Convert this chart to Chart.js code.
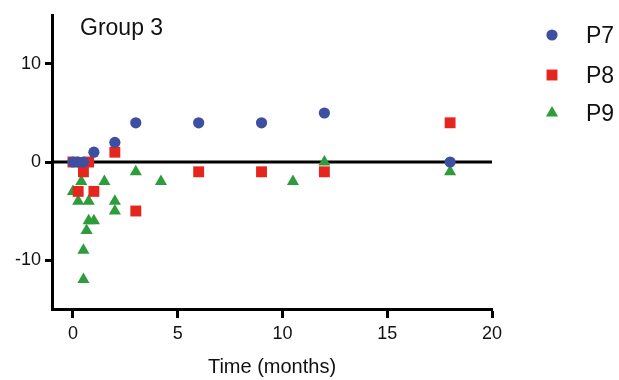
<!DOCTYPE html>
<html>
<head>
<meta charset="utf-8">
<title>Group 3</title>
<script src="https://cdn.jsdelivr.net/npm/chart.js@4/dist/chart.umd.min.js"></script>
<style>
    html, body { margin: 0; padding: 0; background: #fff; }
    #wrap { width: 619px; height: 380px; }
</style>
</head>
<body>
<div id="wrap"><canvas id="scatterChart" width="619" height="380"></canvas></div>
<script>
// Данные: время (месяцы) и значения по пациентам
const p7Time = [0, 0.25, 0.5, 1, 2, 3, 6, 9, 12, 18];
const p7Values = [0, 0, 0, 1, 2, 4, 4, 4, 5, 0];

const p8Time = [0, 0.25, 0.5, 0.75, 1, 2, 3, 6, 9, 12, 18];
const p8Values = [0, -3, -1, 0, -3, 1, -5, -1, -1, -1, 4];

const p9Time = [0, 0.25, 0.4, 0.5, 0.5, 0.65, 0.75, 0.75, 1, 1.5, 2, 2, 3, 4.2, 10.5, 12, 18];
const p9Values = [-3, -4, -2, -9, -12, -7, -4, -6, -6, -2, -4, -5, -1, -2, -2, 0, -1];

const xTicks = [0, 5, 10, 15, 20];
const yTicks = [-10, 0, 10];
const baselineX = [-1, 20];

const FONT = "'Liberation Sans', Arial, Helvetica, sans-serif";

function toPoints(xs, ys) {
    return xs.map(function(x, i) { return { x: x, y: ys[i] }; });
}

// Заголовок внутри области графика и легенда справа
const overlayPlugin = {
    id: 'overlay',
    afterDraw: function(chart) {
        const ctx = chart.ctx;
        ctx.save();
        ctx.fillStyle = '#111';
        ctx.font = '23px ' + FONT;
        ctx.textAlign = 'left';
        ctx.textBaseline = 'alphabetic';
        ctx.fillText('Group 3', 80, 35);

        const rows = [35, 75, 113];
        let row = 0;
        chart.data.datasets.forEach(function(ds) {
            if (ds.type === 'line') return;
            const y = rows[row++];
            ctx.fillStyle = ds.backgroundColor;
            ctx.strokeStyle = ds.backgroundColor;
            ctx.lineWidth = 0;
            Chart.helpers.drawPoint(ctx, {
                pointStyle: ds.pointStyle,
                radius: ds.pointRadius,
                rotation: 0,
                borderWidth: 0
            }, 552, y);
            ctx.fillStyle = '#111';
            ctx.fillText(ds.label, 586, y + 8);
        });
        ctx.restore();
    }
};

document.addEventListener('DOMContentLoaded', function() {
    const ctx = document.getElementById('scatterChart');

    new Chart(ctx, {
        type: 'scatter',
        data: {
            datasets: [
                {
                    label: 'P7',
                    data: toPoints(p7Time, p7Values),
                    pointStyle: 'circle',
                    pointRadius: 5.6,
                    backgroundColor: '#3d4fa1',
                    borderColor: '#3d4fa1',
                    borderWidth: 0,
                    order: 1
                },
                {
                    label: 'P8',
                    data: toPoints(p8Time, p8Values),
                    pointStyle: 'rect',
                    pointRadius: 7.7,
                    backgroundColor: '#e4261e',
                    borderColor: '#e4261e',
                    borderWidth: 0,
                    order: 2
                },
                {
                    label: 'P9',
                    data: toPoints(p9Time, p9Values),
                    pointStyle: 'triangle',
                    pointRadius: 7,
                    backgroundColor: '#2e9c3c',
                    borderColor: '#2e9c3c',
                    borderWidth: 0,
                    order: 3
                },
                {
                    // нулевая линия
                    type: 'line',
                    label: 'zero',
                    data: toPoints(baselineX, [0, 0]),
                    borderColor: '#000',
                    borderWidth: 3,
                    pointRadius: 0,
                    fill: false,
                    order: 10
                }
            ]
        },
        options: {
            responsive: false,
            animation: false,
            layout: {
                padding: { top: 15, right: 127, left: 0, bottom: 0 }
            },
            plugins: {
                legend: { display: false },
                tooltip: { enabled: false }
            },
            scales: {
                x: {
                    type: 'linear',
                    min: -1,
                    max: 20,
                    afterBuildTicks: function(scale) {
                        scale.ticks = xTicks.map(function(v) { return { value: v }; });
                    },
                    afterFit: function(scale) { scale.height = 71; },
                    ticks: {
                        color: '#111',
                        font: { family: FONT, size: 18 },
                        padding: 5,
                        maxRotation: 0
                    },
                    grid: {
                        drawOnChartArea: false,
                        drawTicks: true,
                        tickLength: 9,
                        tickWidth: 3,
                        tickColor: '#000'
                    },
                    border: { color: '#000', width: 3 },
                    title: {
                        display: true,
                        text: 'Time (months)',
                        color: '#111',
                        font: { family: FONT, size: 20 },
                        padding: { top: 0, bottom: 1 }
                    }
                },
                y: {
                    type: 'linear',
                    min: -15,
                    max: 15,
                    afterBuildTicks: function(scale) {
                        scale.ticks = yTicks.map(function(v) { return { value: v }; });
                    },
                    afterFit: function(scale) { scale.width = 52; },
                    ticks: {
                        color: '#111',
                        font: { family: FONT, size: 18 },
                        padding: 4
                    },
                    grid: {
                        drawOnChartArea: false,
                        drawTicks: true,
                        tickLength: 7,
                        tickWidth: 3,
                        tickColor: '#000'
                    },
                    border: { color: '#000', width: 3 }
                }
            }
        },
        plugins: [overlayPlugin]
    });
});
</script>
</body>
</html>
